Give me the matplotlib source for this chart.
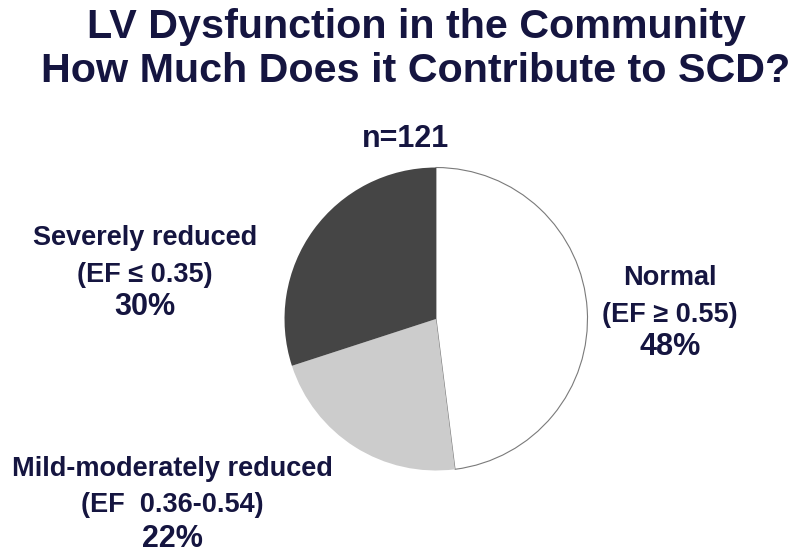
import matplotlib
matplotlib.use("Agg")
import matplotlib.pyplot as plt

categories = ["Normal", "Mild-moderately reduced", "Severely reduced"]
ef_ranges = ["(EF \u2265 0.55)", "(EF  0.36-0.54)", "(EF \u2264 0.35)"]
percent = [48, 22, 30]
n_total = 121
title_lines = ["LV Dysfunction in the Community", "How Much Does it Contribute to SCD?"]

W, H = 800, 558
fig = plt.figure(figsize=(W / 100, H / 100), dpi=100)
fig.patch.set_facecolor("white")
plt.rcParams["font.family"] = ["Liberation Sans", "DejaVu Sans"]
navy = "#151540"

def px(x, y):
    return x / W, 1 - y / H

# pie
cx, cy, r = 436, 319, 153
ax = fig.add_axes([(cx - r) / W, (H - cy - r) / H, 2 * r / W, 2 * r / H])
wedges, _ = ax.pie(percent, colors=["white", "#CCCCCC", "#454545"], startangle=90,
                   counterclock=False, radius=1.0)
wedges[0].set_edgecolor("#7a7a7a")
wedges[0].set_linewidth(0.8)
for w in wedges[1:]:
    w.set_edgecolor("none")
ax.set_xlim(-1.01, 1.01)
ax.set_ylim(-1.01, 1.01)
ax.set_aspect("equal")
ax.axis("off")

# title
fig.text(*px(416, 37.5), title_lines[0], ha="center", va="baseline", fontsize=29.7,
         fontweight="bold", color=navy)
fig.text(*px(416, 82.5), title_lines[1], ha="center", va="baseline", fontsize=29.7,
         fontweight="bold", color=navy)
fig.text(*px(406, 147), f"n={n_total}", ha="center", va="baseline", fontsize=22,
         fontweight="bold", color=navy)

# labels: (x center, baselines)
label_pos = [(670, (285, 322, 355)), (172, (476, 512, 547)), (145, (245, 282, 315))]
for i, (x, ys) in enumerate(label_pos):
    fig.text(*px(x, ys[0]), categories[i], ha="center", va="baseline", fontsize=19.5,
             fontweight="bold", color=navy)
    fig.text(*px(x, ys[1]), ef_ranges[i], ha="center", va="baseline", fontsize=19.5,
             fontweight="bold", color=navy)
    fig.text(*px(x, ys[2]), f"{percent[i]}%", ha="center", va="baseline", fontsize=22,
             fontweight="bold", color=navy)

fig.savefig("out.png", dpi=100, facecolor="white")
